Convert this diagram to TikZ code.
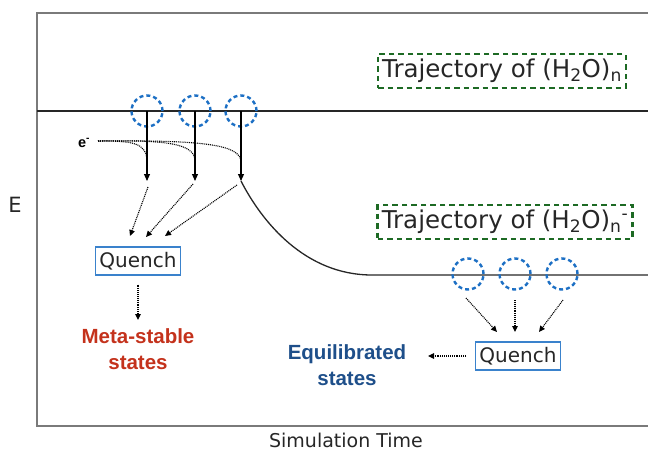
\documentclass[tikz,border=0pt]{standalone}
\usepackage{fontspec}
\setmainfont{DejaVu Sans}
\newfontfamily\labelfont{Liberation Sans}
\usetikzlibrary{arrows.meta}
\definecolor{framegray}{HTML}{7A7A7A}
\definecolor{ringblue}{HTML}{1C6FC4}
\definecolor{boxblue}{HTML}{3A82CC}
\definecolor{trajgreen}{HTML}{1D6A24}
\definecolor{metared}{HTML}{C4321C}
\definecolor{eqblue}{HTML}{1E4F8A}
\definecolor{ink}{HTML}{262626}
\tikzset{
  x=1pt, y=-1pt,
  frameline/.style={draw=framegray, line width=1.4pt},
  energyline/.style={draw=black!85, line width=1.3pt},
  ring/.style={circle, draw=ringblue, line width=2.4pt, dash pattern=on 4pt off 3pt, minimum size=31pt, inner sep=0pt},
  traj/.style={draw=trajgreen, line width=2.6pt, dash pattern=on 5.5pt off 4pt, inner xsep=4pt, inner ysep=5pt, font=\fontsize{24.5}{28}\selectfont, text=ink},
  quench/.style={draw=boxblue, line width=1.3pt, inner xsep=4pt, inner ysep=5pt, font=\fontsize{20}{22}\selectfont, text=ink},
  drop/.style={line width=1.1pt, -{Triangle[length=7pt,width=6pt]}},
  dots/.style={line width=1.1pt, dash pattern=on 1pt off 0.9pt},
  hop/.style={dots, -{Triangle[length=6pt,width=5.5pt]}},
  outcome/.style={font=\labelfont\bfseries\fontsize{20.5}{26}\selectfont, align=center},
}
\begin{document}
\begin{tikzpicture}
\useasboundingbox (0,0) rectangle (648,452);
% axes frame
\draw[frameline] (648,13) -- (37,13) -- (37,426) -- (648,426);
\node[font=\fontsize{21}{22}\selectfont, text=ink] (elabel) at (15,205) {E};
\node[font=\fontsize{19}{20}\selectfont, text=ink, inner sep=0pt] (tlabel) at (346,440) {Simulation Time};

% neutral cluster energy level
\coordinate (lvlA) at (37,111);
\coordinate (lvlB) at (648,111);
\draw[energyline] (lvlA) -- (lvlB);

% rings on the neutral level
\node[ring] (c1) at (147,111) {};
\node[ring] (c2) at (195,111) {};
\node[ring] (c3) at (241,111) {};

% electron attachment
\node[font=\labelfont\bfseries\fontsize{14.5}{15}\selectfont] (el) at (84,143) {e\textsuperscript{-}};
\coordinate (t1) at (147,181);
\coordinate (t2) at (195,181);
\coordinate (t3) at (241,181);
\draw[drop] (c1.center) -- (t1);
\draw[drop] (c2.center) -- (t2);
\draw[drop] (c3.center) -- (t3);
\coordinate (e0) at (98,141);
\draw[dots] (e0) .. controls (132,141) and (147,142) .. (147,162);
\draw[dots] (e0) .. controls (165,140) and (195,143) .. (195,161);
\draw[dots] (e0) .. controls (200,140) and (241,144) .. (241,162);

% anion level relaxing from the third drop
\coordinate (lowA) at (372,275);
\coordinate (lowB) at (648,275);
\draw[energyline] (t3) .. controls (262,222) and (305,275) .. (lowA) -- (lowB);

% trajectory labels
\node[traj] (tr1) at (502,71) {Trajectory of (H\textsubscript{2}O)\textsubscript{n}};
\node[traj] (tr2) at (505,222) {Trajectory of (H\textsubscript{2}O)\textsubscript{n}\textsuperscript{-}};

% quench towards meta-stable states
\node[quench] (q1) at (138,261) {Quench};
\draw[hop] (148,187) -- (130,236);
\draw[hop] (193,184) -- (146,237);
\draw[hop] (237,185) -- (165,236);
\node[outcome, text=metared] (meta) at (138,349) {Meta-stable\\states};
\draw[hop] (q1.south) ++(0,9) -- (138,320);

% rings on the anion level
\node[ring] (d1) at (468,274) {};
\node[ring] (d2) at (515,274) {};
\node[ring] (d3) at (562,274) {};

% quench towards equilibrated states
\node[quench] (q2) at (518,356) {Quench};
\draw[hop] (466,298) -- (497,332);
\draw[hop] (515,300) -- (515,332);
\draw[hop] (563,300) -- (539,332);
\node[outcome, text=eqblue] (eq) at (347,365) {Equilibrated\\states};
\draw[hop] (466,356) -- (428,356);
\end{tikzpicture}
\end{document}
